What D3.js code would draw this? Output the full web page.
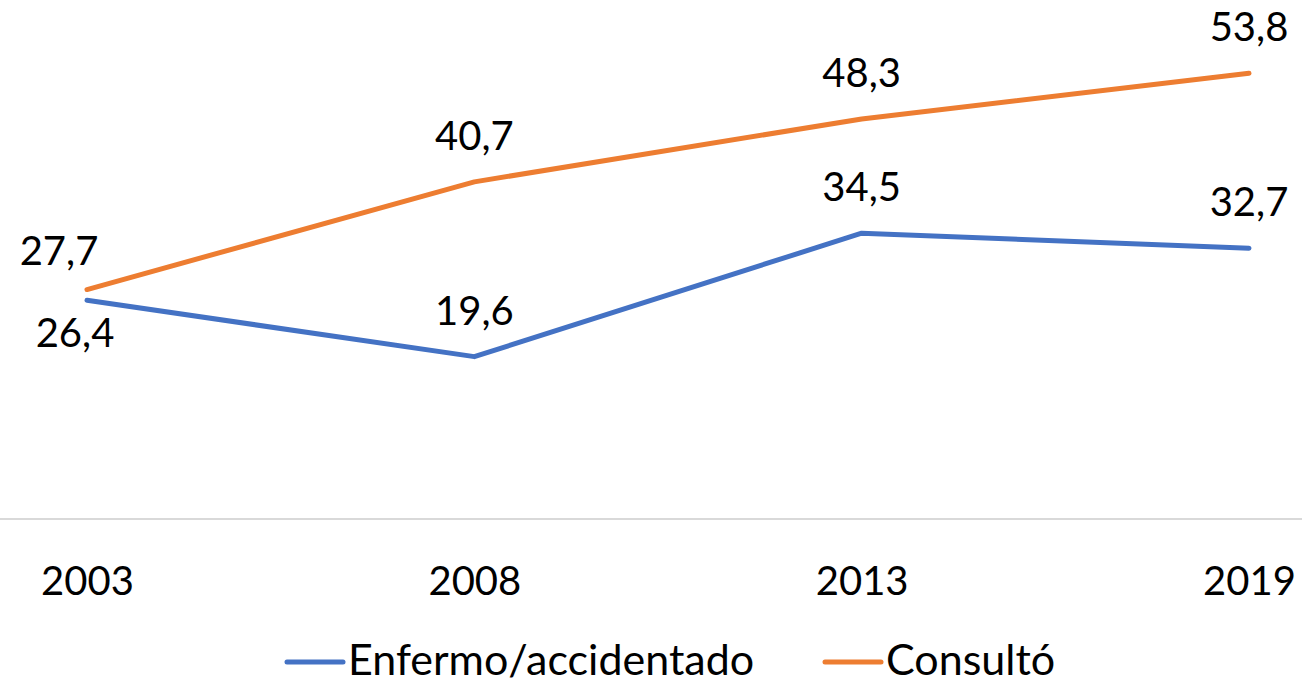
<!DOCTYPE html>
<html>
<head>
<meta charset="utf-8">
<script src="https://cdn.jsdelivr.net/npm/d3@7"></script>
<style>
  body { margin: 0; background: #fff; }
  svg { display: block; font-family: Lato, "Open Sans", sans-serif; }
</style>
</head>
<body>
<script>
// datos del gráfico
const years = ["2003", "2008", "2013", "2019"];
const enfermo = [26.4, 19.6, 34.5, 32.7];
const consulto = [27.7, 40.7, 48.3, 53.8];
const seriesNames = ["Enfermo/accidentado", "Consultó"];
const seriesColors = ["#4472C4", "#ED7D31"];

const width = 1302, height = 684;
const fontSize = 40;

const svg = d3.select("body").append("svg")
    .attr("width", width)
    .attr("height", height);

const x = d3.scalePoint().domain(years).range([87, 1249]);
const y = d3.scaleLinear().domain([0, 60]).range([519, 22]);

const locale = d3.formatLocale({ decimal: ",", thousands: ".", grouping: [3], currency: ["", ""] });
const fmt = locale.format(".1f");

// línea base gris
svg.append("line")
    .attr("x1", 0).attr("x2", width)
    .attr("y1", y(0)).attr("y2", y(0))
    .attr("stroke", "#d9d9d9")
    .attr("stroke-width", 2);

// eje x (solo etiquetas)
const xAxis = svg.append("g")
    .attr("transform", `translate(0,${y(0)})`)
    .call(d3.axisBottom(x).tickSize(0).tickPadding(48));
xAxis.select(".domain").remove();
xAxis.selectAll("text")
    .style("font-size", fontSize + "px")
    .style("font-family", "Lato, 'Open Sans', sans-serif")
    .attr("fill", "#000");

const line = d3.line()
    .x((d, i) => x(years[i]))
    .y(d => y(d));

const series = [enfermo, consulto];

svg.selectAll("path.serie")
    .data(series)
    .enter()
    .append("path")
    .attr("class", "serie")
    .attr("d", d => line(d))
    .attr("fill", "none")
    .attr("stroke", (d, i) => seriesColors[i])
    .attr("stroke-width", 5)
    .attr("stroke-linejoin", "round")
    .attr("stroke-linecap", "round");

// etiquetas de datos
function labelOffset(s, i) {
    if (i === 0 && s === 0) return [-12, 47];  // 26,4 debajo
    if (i === 0 && s === 1) return [-28, -25]; // 27,7 arriba-izquierda
    return [0, -32];
}

series.forEach((vals, s) => {
    svg.append("g").selectAll("text")
        .data(vals)
        .enter()
        .append("text")
        .attr("x", (d, i) => x(years[i]) + labelOffset(s, i)[0])
        .attr("y", (d, i) => y(d) + labelOffset(s, i)[1])
        .attr("text-anchor", "middle")
        .style("font-size", fontSize + "px")
        .attr("fill", "#000")
        .text(d => fmt(d));
});

// leyenda
const legendX = [287, 825];
const legend = svg.append("g");
seriesNames.forEach((name, i) => {
    legend.append("line")
        .attr("x1", legendX[i]).attr("x2", legendX[i] + 56)
        .attr("y1", 662).attr("y2", 662)
        .attr("stroke", seriesColors[i])
        .attr("stroke-width", 5)
        .attr("stroke-linecap", "round");
    legend.append("text")
        .attr("x", legendX[i] + 61)
        .attr("y", 675)
        .style("font-size", "43px")
        .attr("fill", "#000")
        .text(name);
});
</script>
</body>
</html>
